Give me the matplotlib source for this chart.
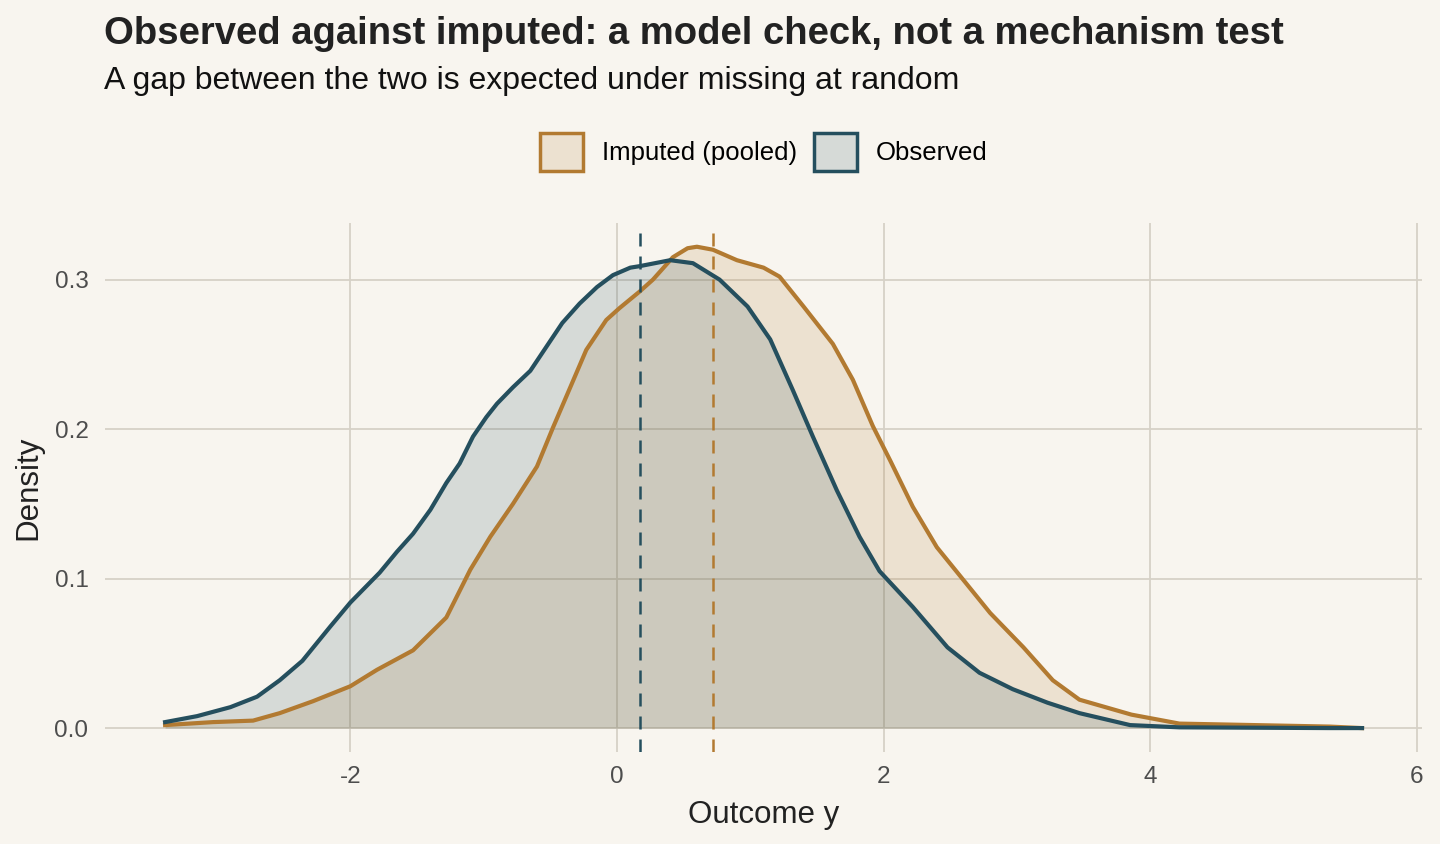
#!/usr/bin/env python3
# plot.py - observed vs imputed density check

import numpy as np
import matplotlib.pyplot as plt
from matplotlib.patches import Patch

plt.rcParams['font.family'] = ['Liberation Sans', 'DejaVu Sans']
plt.rcParams['axes.unicode_minus'] = False

# Density curves
obs_x = [-3.39, -3.15, -2.90, -2.70, -2.53, -2.36, -2.15, -2.00, -1.78, -1.65,
         -1.53, -1.40, -1.28, -1.18, -1.08, -0.98, -0.90, -0.78, -0.65, -0.53,
         -0.41, -0.28, -0.15, -0.03, 0.10, 0.17, 0.40, 0.57, 0.77, 0.98,
         1.15, 1.32, 1.47, 1.65, 1.82, 1.97, 2.22, 2.48, 2.72, 2.97,
         3.23, 3.47, 3.85, 4.22, 5.35, 5.59]
obs_y = [0.004, 0.008, 0.014, 0.021, 0.032, 0.045, 0.068, 0.084, 0.104, 0.118,
         0.130, 0.146, 0.164, 0.177, 0.195, 0.208, 0.217, 0.228, 0.239, 0.255,
         0.271, 0.284, 0.295, 0.303, 0.308, 0.309, 0.313, 0.311, 0.300, 0.282,
         0.260, 0.226, 0.195, 0.159, 0.128, 0.105, 0.081, 0.054, 0.037, 0.026,
         0.017, 0.010, 0.002, 0.0005, 0.0, 0.0]

imp_x = [-3.39, -3.03, -2.73, -2.53, -2.28, -2.00, -1.80, -1.53, -1.28, -1.10,
         -0.95, -0.78, -0.60, -0.48, -0.35, -0.23, -0.08, 0.02, 0.17, 0.27,
         0.42, 0.53, 0.60, 0.72, 0.90, 1.10, 1.22, 1.40, 1.62, 1.77,
         1.92, 2.05, 2.22, 2.40, 2.60, 2.80, 3.05, 3.27, 3.47, 3.86,
         4.22, 5.35, 5.59]
imp_y = [0.002, 0.004, 0.005, 0.010, 0.018, 0.028, 0.039, 0.052, 0.074, 0.106,
         0.128, 0.150, 0.175, 0.201, 0.228, 0.253, 0.273, 0.281, 0.292, 0.300,
         0.315, 0.321, 0.322, 0.320, 0.313, 0.308, 0.302, 0.282, 0.257, 0.233,
         0.202, 0.179, 0.148, 0.121, 0.099, 0.077, 0.054, 0.032, 0.019, 0.009,
         0.003, 0.001, 0.0]

obs_mean = 0.17
imp_mean = 0.72

labels = ['Imputed (pooled)', 'Observed']
c_imp = '#B27A31'
c_obs = '#254F5E'
bg = '#F8F5EF'

fig = plt.figure(figsize=(14.4, 8.44), dpi=100, facecolor=bg)
ax = fig.add_axes([0.073, 0.109, 0.9145, 0.627], facecolor=bg)

ax.fill_between(imp_x, imp_y, color=c_imp, alpha=0.16, lw=0)
ax.fill_between(obs_x, obs_y, color=c_obs, alpha=0.16, lw=0)
ax.plot(imp_x, imp_y, color=c_imp, lw=3.0, solid_joinstyle='round')
ax.plot(obs_x, obs_y, color=c_obs, lw=3.0, solid_joinstyle='round')
ax.axvline(imp_mean, color=c_imp, lw=1.8, ls=(0, (5.2, 4)))
ax.axvline(obs_mean, color=c_obs, lw=1.8, ls=(0, (5.2, 4)))

ax.set_xlim(-3.84, 6.04)
ax.set_ylim(-0.016, 0.338)
ax.set_xticks([-2, 0, 2, 4, 6])
ax.set_yticks([0.0, 0.1, 0.2, 0.3])
ax.set_yticklabels(['0.0', '0.1', '0.2', '0.3'])
ax.grid(True, color='#D6D1C7', lw=1.3)
ax.set_axisbelow(True)
for s in ax.spines.values():
    s.set_visible(False)
ax.tick_params(axis='y', length=0, labelsize=17.5, labelcolor='#4D4D4D', pad=12)
ax.tick_params(axis='x', length=0, labelsize=17.5, labelcolor='#4D4D4D', pad=10)
ax.set_xlabel('Outcome y', fontsize=22.5, color='#222222', labelpad=9)
ax.set_ylabel('Density', fontsize=22.5, color='#222222', labelpad=8)

handles = [Patch(facecolor=(0.698, 0.478, 0.192, 0.16), edgecolor=c_imp, lw=2.5),
           Patch(facecolor=(0.145, 0.31, 0.369, 0.16), edgecolor=c_obs, lw=2.5)]
fig.legend(handles, labels, loc='center', bbox_to_anchor=(0.5306, 0.82),
           ncol=2, frameon=False, fontsize=18.5, handlelength=1.66,
           handleheight=1.9, handletextpad=0.74, columnspacing=0.66)

fig.text(0.072, 0.948, 'Observed against imputed: a model check, not a mechanism test',
         fontsize=27.5, fontweight='bold', color='#222222', va='baseline')
fig.text(0.072, 0.895, 'A gap between the two is expected under missing at random',
         fontsize=23, color='#111111', va='baseline')

fig.savefig('out.png', dpi=100, facecolor=bg)
